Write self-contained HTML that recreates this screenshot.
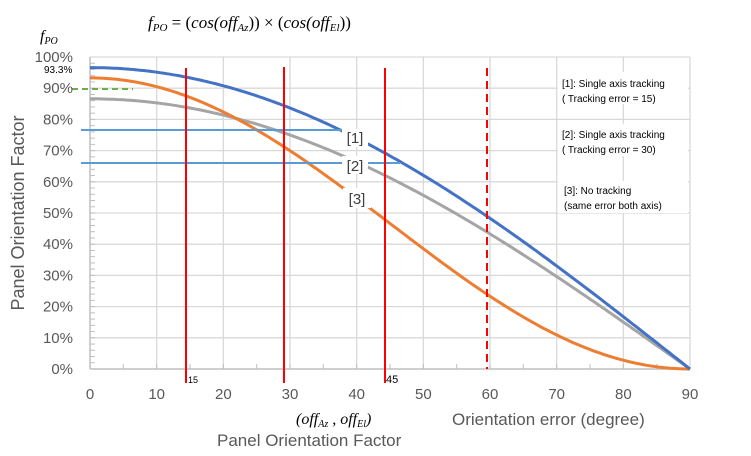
<!DOCTYPE html>
<html><head><style>
body{margin:0;background:#fff;}
svg{display:block;font-family:"Liberation Sans",sans-serif;}
</style></head><body>
<svg id="s" width="751" height="456" viewBox="0 0 751 456" xmlns="http://www.w3.org/2000/svg">
<rect width="751" height="456" fill="#fff"/>
<g id="grid" stroke="#d9d9d9" stroke-width="1.3"></g>
<g id="ticks" stroke="#bfbfbf" stroke-width="1"></g>
<line x1="90" y1="57" x2="90" y2="369" stroke="#bfbfbf" stroke-width="1.5"/>
<line x1="90" y1="369" x2="690" y2="369" stroke="#bfbfbf" stroke-width="1.5"/>
<g id="curves" fill="none" stroke-width="3"></g>
<line x1="72" y1="89" x2="133" y2="89" stroke="#70ad47" stroke-width="2" stroke-dasharray="6,4"/>
<line x1="81" y1="130" x2="367" y2="130" stroke="#5b9bd5" stroke-width="2"/>
<line x1="81" y1="163" x2="400" y2="163" stroke="#5b9bd5" stroke-width="2"/>
<g stroke="#ff0000" stroke-width="2">
<line x1="186" y1="68" x2="186" y2="383"/>
<line x1="284" y1="67" x2="284" y2="383"/>
<line x1="385" y1="68" x2="385" y2="383"/>
<line x1="487" y1="68" x2="487" y2="369" stroke-dasharray="8,5"/>
</g>
<g font-size="15" fill="#404040" text-anchor="middle">
<rect x="342" y="129" width="26" height="18" fill="#fff"/>
<text x="355" y="143">[1]</text>
<rect x="342" y="156" width="26" height="18" fill="#fff"/>
<text x="355" y="171">[2]</text>
<rect x="343" y="188" width="28" height="20" fill="#fff"/>
<text x="357" y="204">[3]</text>
</g>
<g id="ylab" font-size="15" fill="#595959" text-anchor="end"></g>
<g id="xlab" font-size="15" fill="#595959" text-anchor="middle"></g>
<text x="44" y="73" font-size="10" fill="#000">93.3%</text>
<text x="188" y="383" font-size="9" fill="#000">15</text>
<text x="386" y="383" font-size="11" fill="#000">45</text>
<g fill="#fff"><rect x="558" y="72" width="130" height="32"/><rect x="558" y="124" width="130" height="32"/><rect x="558" y="181" width="130" height="32"/></g>
<g font-size="10" fill="#000">
<text x="562" y="87">[1]: Single axis tracking</text>
<text x="562" y="102">( Tracking error = 15)</text>
<text x="562" y="138">[2]: Single axis tracking</text>
<text x="562" y="153">( Tracking error = 30)</text>
<text x="564" y="194">[3]: No tracking</text>
<text x="564" y="209">(same error both axis)</text>
</g>
<text x="40" y="41" font-family="Liberation Serif,serif" font-style="italic" font-size="16">f<tspan font-size="10" dy="3">PO</tspan></text>
<text x="148" y="28" font-family="Liberation Serif,serif" font-style="italic" font-size="17">f<tspan font-size="11" dy="3">PO</tspan><tspan dy="-3" font-style="normal"> = (</tspan>cos(off<tspan font-size="11" dy="3">Az</tspan><tspan dy="-3" font-style="normal">)) × (</tspan>cos(off<tspan font-size="11" dy="3">El</tspan><tspan dy="-3" font-style="normal">))</tspan></text>
<text x="296" y="424" font-family="Liberation Serif,serif" font-style="italic" font-size="16">(off<tspan font-size="10" dy="3">Az</tspan><tspan dy="-3"> , off</tspan><tspan font-size="10" dy="3">El</tspan><tspan dy="-3">)</tspan></text>
<text x="452" y="425" font-size="17" fill="#595959">Orientation error (degree)</text>
<text x="217" y="446" font-size="17" fill="#595959">Panel Orientation Factor</text>
<text transform="translate(24,213) rotate(-90)" font-size="18" fill="#595959" text-anchor="middle">Panel Orientation Factor</text>
</svg>
<script>
const NS="http://www.w3.org/2000/svg";
const X=d=>90+d*600/90, Y=p=>369-p*312;
function el(g,t,a){const e=document.createElementNS(NS,t);for(const k in a)e.setAttribute(k,a[k]);document.getElementById(g).appendChild(e);return e;}
for(let i=1;i<=10;i++)el("grid","line",{x1:90,x2:690,y1:Y(i/10),y2:Y(i/10)});
for(let i=1;i<=9;i++)el("grid","line",{x1:X(i*10),x2:X(i*10),y1:57,y2:369});
for(let i=1;i<50;i++)el("ticks","line",{x1:90,x2:95,y1:Y(i/50),y2:Y(i/50)});
for(let i=1;i<18;i++)el("ticks","line",{x1:X(i*5),x2:X(i*5),y1:364,y2:369});
for(let i=0;i<=10;i++){const t=el("ylab","text",{x:73,y:Y(i/10)+5});t.textContent=(i*10)+"%";}
for(let i=0;i<=9;i++){const t=el("xlab","text",{x:X(i*10),y:399});t.textContent=i*10;}
const r=Math.PI/180;
function curve(f,col){let d="";for(let a=0;a<=90;a+=0.5){d+=(a?"L":"M")+X(a).toFixed(1)+","+Y(f(a)).toFixed(1);}el("curves","path",{d:d,stroke:col});}
curve(a=>0.866*Math.cos(a*r),"#a5a5a5");
curve(a=>0.933*Math.cos(a*r)**2,"#ed7d31");
curve(a=>0.966*Math.cos(a*r),"#4472c4");
</script>
</body></html>
